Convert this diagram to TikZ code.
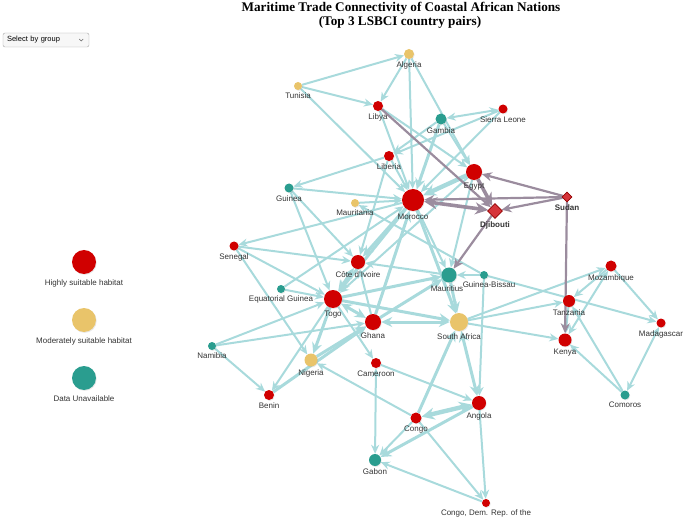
\documentclass[tikz,border=0pt]{standalone}
\usepackage{fontspec}
\setsansfont{Liberation Sans}
\newfontfamily\titlefont{Liberation Serif}
\usepackage{tikz}
\usetikzlibrary{arrows.meta,positioning,shapes.geometric,backgrounds,shadows}
\definecolor{habred}{RGB}{208,0,0}
\definecolor{habyel}{RGB}{233,196,106}
\definecolor{habteal}{RGB}{42,157,143}
\definecolor{linkc}{RGB}{168,218,220}
\definecolor{plinkc}{RGB}{155,140,158}
\definecolor{hubred}{RGB}{214,52,58}
\definecolor{labgray}{RGB}{51,51,51}

\begin{document}
\begin{tikzpicture}[x=1pt, y=-1pt,
  country/.style={circle, inner sep=0pt, drop shadow={opacity=0.18, shadow xshift=0.7pt, shadow yshift=-0.9pt}},
  hi/.style={country, fill=habred},
  mod/.style={country, fill=habyel},
  na/.style={country, fill=habteal},
  hub/.style={diamond, aspect=1, inner sep=0pt, fill=hubred, draw=habred!70!black, line width=0.6pt},
  lbl/.style={font=\sffamily\fontsize{8}{9}\selectfont, text=labgray, inner sep=0pt},
  lnk/.style={draw=linkc, line width=2pt, -{Stealth[length=9pt,width=8pt]}},
  lnkb/.style={draw=linkc, line width=2pt, {Stealth[length=9pt,width=8pt]}-{Stealth[length=9pt,width=8pt]}},
  lnkm/.style={draw=linkc, line width=3pt, -{Stealth[length=11pt,width=10pt]}},
  lnkmb/.style={draw=linkc, line width=3pt, {Stealth[length=11pt,width=10pt]}-{Stealth[length=11pt,width=10pt]}},
  lnkw/.style={draw=linkc, line width=4.4pt, -{Stealth[length=13pt,width=12pt]}},
  lnkwb/.style={draw=linkc, line width=4.4pt, {Stealth[length=13pt,width=12pt]}-{Stealth[length=13pt,width=12pt]}},
  plnk/.style={draw=plinkc, line width=2.2pt, -{Stealth[length=10pt,width=9pt]}},
  plnkw/.style={draw=plinkc, line width=3.6pt, -{Stealth[length=13pt,width=12pt]}},
  plnkwb/.style={draw=plinkc, line width=3.6pt, {Stealth[length=13pt,width=12pt]}-{Stealth[length=13pt,width=12pt]}}]
\useasboundingbox (0,0) rectangle (685,521);
% title
\node[font=\titlefont\bfseries\fontsize{13.2}{15}\selectfont] (title1) at (401,8) {Maritime Trade Connectivity of Coastal African Nations};
\node[font=\titlefont\bfseries\fontsize{13.2}{15}\selectfont] (title2) at (400,22) {(Top 3 LSBCI country pairs)};
% group selector
\node[draw=black!35, fill=black!3, rounded corners=2pt, minimum width=86pt, minimum height=14pt, inner sep=0pt, font=\sffamily\fontsize{7.5}{8}\selectfont, text width=78pt] (select) at (46,40) {Select by group};
\draw[black!60, line width=0.5pt] ([xshift=-10pt, yshift=1pt]select.east) -- ++(2pt,-2pt) -- ++(2pt,2pt);
% legend
\node[hi, minimum size=24pt] (leghi) at (84,262) {};
\node[lbl, below=5pt of leghi] (leghi-l) {Highly suitable habitat};
\node[mod, minimum size=24pt] (legmod) at (84,320) {};
\node[lbl, below=5pt of legmod] (legmod-l) {Moderately suitable habitat};
\node[na, minimum size=24pt] (legna) at (84,378) {};
\node[lbl, below=5pt of legna] (legna-l) {Data Unavailable};
% north
\node[mod, minimum size=10pt] (algeria) at (409,54) {};
\node[lbl, below=2.5pt of algeria] (algeria-l) {Algeria};
\node[mod, minimum size=8pt] (tunisia) at (298,86) {};
\node[lbl, below=2.5pt of tunisia] (tunisia-l) {Tunisia};
\node[hi, minimum size=10pt] (libya) at (378,106) {};
\node[lbl, below=2.5pt of libya] (libya-l) {Libya};
\node[hi, minimum size=16pt] (egypt) at (474,172) {};
\node[lbl, below=2.5pt of egypt] (egypt-l) {Egypt};
\node[hi, minimum size=22pt] (morocco) at (413,200) {};
\node[lbl, below=2.5pt of morocco] (morocco-l) {Morocco};
\node[mod, minimum size=8pt] (mauritania) at (355,203) {};
\node[lbl, below=2.5pt of mauritania] (mauritania-l) {Mauritania};
% east hubs
\node[hub, minimum size=15pt] (djibouti) at (495,211) {};
\node[lbl, below=2.5pt of djibouti, font=\sffamily\bfseries\fontsize{8}{9}\selectfont] (djibouti-l) {Djibouti};
\node[hub, minimum size=10pt] (sudan) at (567,197) {};
\node[lbl, below=2.5pt of sudan, font=\sffamily\bfseries\fontsize{8}{9}\selectfont] (sudan-l) {Sudan};
% west
\node[na, minimum size=11pt] (gambia) at (441,119) {};
\node[lbl, below=2.5pt of gambia] (gambia-l) {Gambia};
\node[hi, minimum size=9pt] (sierraleone) at (503,109) {};
\node[lbl, below=2.5pt of sierraleone] (sierraleone-l) {Sierra Leone};
\node[hi, minimum size=10pt] (liberia) at (389,156) {};
\node[lbl, below=2.5pt of liberia] (liberia-l) {Liberia};
\node[na, minimum size=9pt] (guinea) at (289,188) {};
\node[lbl, below=2.5pt of guinea] (guinea-l) {Guinea};
\node[hi, minimum size=9pt] (senegal) at (234,246) {};
\node[lbl, below=2.5pt of senegal] (senegal-l) {Senegal};
\node[hi, minimum size=14pt] (cotedivoire) at (358,262) {};
\node[lbl, below=2.5pt of cotedivoire] (cotedivoire-l) {Côte d'Ivoire};
\node[na, minimum size=8pt] (eqguinea) at (281,289) {};
\node[lbl, below=2.5pt of eqguinea] (eqguinea-l) {Equatorial Guinea};
\node[hi, minimum size=18pt] (togo) at (333,299) {};
\node[lbl, below=2.5pt of togo] (togo-l) {Togo};
\node[na, minimum size=15pt] (mauritius) at (449,275) {};
\node[lbl, below=2.5pt of mauritius, xshift=-2pt] (mauritius-l) {Mauritius};
\node[na, minimum size=8pt] (guineabissau) at (484,275) {};
\node[lbl, below=2.5pt of guineabissau, xshift=5pt] (guineabissau-l) {Guinea-Bissau};
\node[hi, minimum size=16pt] (ghana) at (373,322) {};
\node[lbl, below=2.5pt of ghana] (ghana-l) {Ghana};
\node[mod, minimum size=18pt] (southafrica) at (459,322) {};
\node[lbl, below=2.5pt of southafrica] (southafrica-l) {South Africa};
\node[na, minimum size=8pt] (namibia) at (212,346) {};
\node[lbl, below=2.5pt of namibia] (namibia-l) {Namibia};
\node[mod, minimum size=13pt] (nigeria) at (311,360) {};
\node[lbl, below=2.5pt of nigeria] (nigeria-l) {Nigeria};
\node[hi, minimum size=10pt] (cameroon) at (376,363) {};
\node[lbl, below=2.5pt of cameroon] (cameroon-l) {Cameroon};
\node[hi, minimum size=10pt] (benin) at (269,395) {};
\node[lbl, below=2.5pt of benin] (benin-l) {Benin};
% south
\node[hi, minimum size=11pt] (congo) at (416,418) {};
\node[lbl, below=2.5pt of congo] (congo-l) {Congo};
\node[hi, minimum size=14pt] (angola) at (479,403) {};
\node[lbl, below=2.5pt of angola] (angola-l) {Angola};
\node[na, minimum size=12pt] (gabon) at (375,460) {};
\node[lbl, below=2.5pt of gabon] (gabon-l) {Gabon};
\node[hi, minimum size=8pt] (drc) at (486,503) {};
\node[lbl, below=2.5pt of drc] (drc-l) {Congo, Dem. Rep. of the};
% east
\node[hi, minimum size=11pt] (mozambique) at (611,266) {};
\node[lbl, below=2.5pt of mozambique] (mozambique-l) {Mozambique};
\node[hi, minimum size=12pt] (tanzania) at (569,301) {};
\node[lbl, below=2.5pt of tanzania] (tanzania-l) {Tanzania};
\node[hi, minimum size=9pt] (madagascar) at (661,323) {};
\node[lbl, below=2.5pt of madagascar] (madagascar-l) {Madagascar};
\node[hi, minimum size=13pt] (kenya) at (565,340) {};
\node[lbl, below=2.5pt of kenya] (kenya-l) {Kenya};
\node[na, minimum size=9pt] (comoros) at (625,395) {};
\node[lbl, below=2.5pt of comoros] (comoros-l) {Comoros};
\begin{scope}[on background layer]
% links, north
\draw[lnk] (tunisia) -- (algeria);
\draw[lnk] (tunisia) -- (libya);
\draw[lnk] (tunisia) -- (morocco);
\draw[lnk] (algeria) -- (libya);
\draw[lnk] (algeria) -- (morocco);
\draw[lnk] (algeria) -- (egypt);
\draw[lnk] (libya) -- (morocco);
\draw[lnk] (libya) -- (egypt);
\draw[lnkb] (sierraleone) -- (gambia);
\draw[lnk] (sierraleone) -- (liberia);
\draw[lnk] (sierraleone) -- (morocco);
\draw[lnk] (gambia) -- (liberia);
\draw[lnk] (gambia) -- (egypt);
\draw[lnkm] (gambia) -- (morocco);
\draw[lnk] (liberia) -- (guinea);
\draw[lnk] (liberia) -- (morocco);
\draw[lnk] (liberia) -- (cotedivoire);
\draw[lnk] (guinea) -- (morocco);
\draw[lnk] (guinea) -- (cotedivoire);
\draw[lnk] (guinea) -- (togo);
\draw[lnk] (mauritania) -- (morocco);
\draw[lnk] (guineabissau) -- (mauritania);
\draw[lnkw] (egypt) -- (morocco);
\draw[lnk] (egypt) -- (mauritius);
\draw[lnk] (egypt) -- (togo);
% links, west
\draw[lnk] (morocco) -- (senegal);
\draw[lnk] (senegal) -- (cotedivoire);
\draw[lnk] (senegal) -- (togo);
\draw[lnk] (senegal) -- (nigeria);
\draw[lnk] (eqguinea) -- (togo);
\draw[lnk] (eqguinea) -- (morocco);
\draw[lnk] (namibia) -- (togo);
\draw[lnk] (namibia) -- (ghana);
\draw[lnk] (namibia) -- (benin);
\draw[lnk] (togo) -- (benin);
\draw[lnk] (togo) -- (cameroon);
\draw[lnkm] (togo) -- (nigeria);
\draw[lnkm] (nigeria) -- (ghana);
\draw[lnkm] (benin) -- (ghana);
\draw[lnkmb] (togo) -- (ghana);
\draw[lnkmb] (togo) -- (cotedivoire);
\draw[lnk] (ghana) -- (cotedivoire);
\draw[lnkm] (morocco) -- (togo);
\draw[lnkm] (morocco) -- (cotedivoire);
\draw[lnkm] (ghana) -- (morocco);
\draw[lnk] (mauritius) -- (cotedivoire);
% links, centre
\draw[lnkm] (togo) -- (mauritius);
\draw[lnkm] (togo) -- (southafrica);
\draw[lnkmb] (ghana) -- (southafrica);
\draw[lnkm] (ghana) -- (mauritius);
\draw[lnk] (morocco) -- (mauritius);
\draw[lnkm] (mauritius) -- (southafrica);
\draw[lnkm] (morocco) -- (southafrica);
\draw[lnk] (guineabissau) -- (mauritius);
\draw[lnk] (guineabissau) -- (angola);
\draw[lnk] (guineabissau) -- (madagascar);
% links, south
\draw[lnkm] (congo) -- (southafrica);
\draw[lnkmb] (angola) -- (southafrica);
\draw[lnkwb] (congo) -- (angola);
\draw[lnk] (congo) -- (nigeria);
\draw[lnk] (cameroon) -- (angola);
\draw[lnkb] (gabon) -- (cameroon);
\draw[lnkm] (angola) -- (gabon);
\draw[lnk] (congo) -- (gabon);
\draw[lnk] (drc) -- (gabon);
\draw[lnk] (congo) -- (drc);
\draw[lnk] (angola) -- (drc);
% links, east
\draw[lnk] (southafrica) -- (mozambique);
\draw[lnk] (southafrica) -- (tanzania);
\draw[lnk] (southafrica) -- (kenya);
\draw[lnk] (mozambique) -- (tanzania);
\draw[lnkb] (mozambique) -- (kenya);
\draw[lnk] (mozambique) -- (madagascar);
\draw[lnkb] (madagascar) -- (comoros);
\draw[lnk] (comoros) -- (kenya);
\draw[lnk] (comoros) -- (tanzania);
\draw[lnk] (tanzania) -- (kenya);
% links of the hubs
\draw[plnk] (libya) -- (djibouti);
\draw[plnkw] (egypt) -- (djibouti);
\draw[plnkwb] (djibouti) -- (morocco);
\draw[plnk] (sudan) -- (egypt);
\draw[plnk] (sudan) -- (morocco);
\draw[plnk] (sudan) -- (djibouti);
\draw[plnk] (djibouti) -- (mauritius);
\draw[plnk] (sudan) -- (kenya);
\end{scope}
\end{tikzpicture}
\end{document}
